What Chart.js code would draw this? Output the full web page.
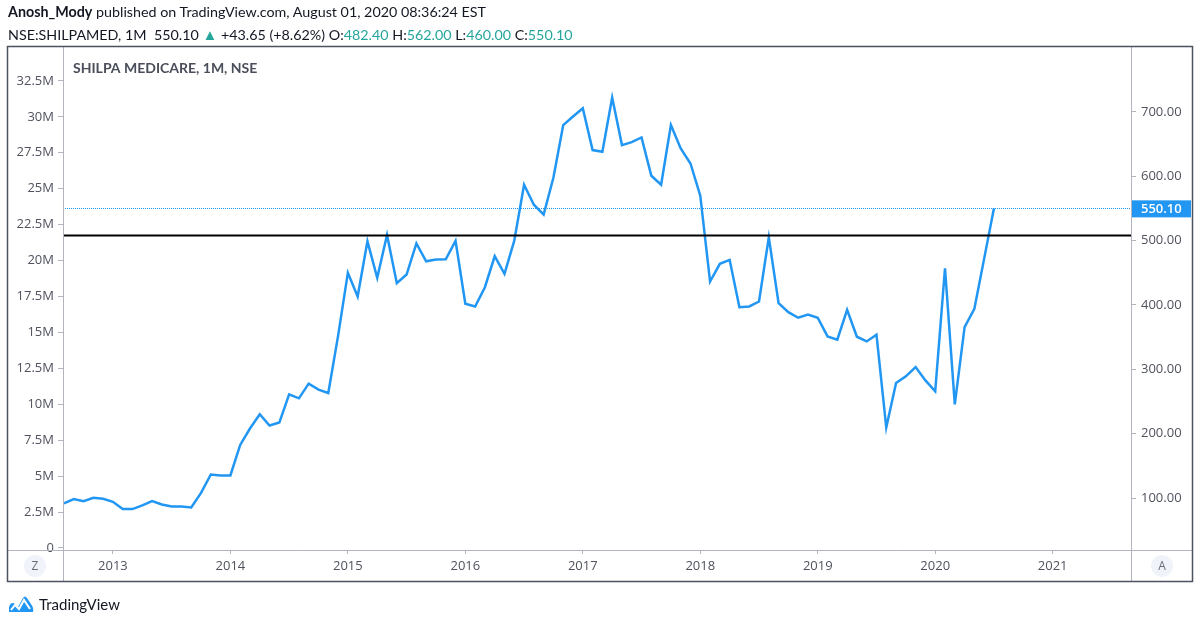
<!DOCTYPE html>
<html>
<head>
<meta charset="utf-8">
<script src="https://cdn.jsdelivr.net/npm/chart.js"></script>
<style>
    html, body { margin: 0; padding: 0; background: #ffffff; }
    body { width: 1200px; height: 624px; position: relative; overflow: hidden; font-family: Lato, 'Open Sans', sans-serif; color: #131722; }
    #cabecera { position: absolute; left: 8px; top: 1px; font-size: 14.3px; line-height: 22px; white-space: nowrap; z-index: 2; }
    #cabecera b { font-weight: 700; }
    .verde { color: #26a69a; }
    .flecha { font-size: 15px; }
    #pie { position: absolute; left: 8px; top: 594px; height: 20px; display: flex; align-items: center; font-size: 15px; color: #131722; z-index: 2; }
    #pie svg { margin-right: 5px; }
    canvas { position: absolute; left: 0; top: 0; z-index: 1; }
</style>
</head>
<body>
<div id="cabecera">
    <div><b>Anosh_Mody</b> published on TradingView.com, August 01, 2020 08:36:24 EST</div>
    <div>NSE:SHILPAMED, 1M&nbsp; 550.10 <span class="verde flecha">&#9650;</span> +43.65 (+8.62%) O:<span class="verde">482.40</span> H:<span class="verde">562.00</span> L:<span class="verde">460.00</span> C:<span class="verde">550.10</span></div>
</div>
<canvas id="grafica" width="1200" height="624"></canvas>
<div id="pie">
    <svg width="26" height="18" viewBox="0 0 26 18">
        <path d="M1 17 L1 12 Q3 6 7 9 L10 12 L15 3 Q17 0 19 3 L23 9 Q26 13 25 17 Z" fill="#2196f3"/>
        <path d="M3 15 L7 10 L11 14 L16 5 L22 14" fill="none" stroke="#ffffff" stroke-width="2"/>
    </svg>
    <span>TradingView</span>
</div>
<script>
// cierres mensuales, desde agosto 2012 hasta julio 2020
const primerMes = { anio: 2012, mes: 8 };
const cierres = [
    91.8, 98.4, 95.3, 100.5, 98.9,
    94.3, 82.9, 82.9, 88.7, 95.3, 90.2, 87.1, 87.1, 85.6, 108.2, 136.7, 135.2,
    135.2, 182.6, 208.1, 230.2, 212.7, 217.4, 261.2, 255.0, 277.8, 268.5, 263.3, 352.0,
    449.9, 413.2, 498.9, 442.2, 508.8, 433.8, 447.3, 495.8, 467.9, 470.5, 471.0, 499.5,
    401.9, 397.7, 427.6, 475.7, 448.4, 500.0, 586.8, 555.8, 540.3, 598.1, 679.4, 692.7,
    705.7, 640.6, 638.0, 722.2, 648.4, 653.0, 660.2, 600.8, 586.8, 679.4, 643.1, 619.8,
    569.8, 436.4, 463.9, 470.1, 396.6, 397.7, 405.4, 505.1, 402.8, 388.8, 380.2, 385.3,
    380.2, 351.2, 346.0, 392.6, 350.7, 343.4, 353.8, 209.6, 278.8, 289.1, 303.6, 282.9,
    265.9, 457.1, 245.7, 365.6, 394.1, 472.0, 550.1
];

const anios = [2013, 2014, 2015, 2016, 2017, 2018, 2019, 2020, 2021];
const ticksPrecio = [100, 200, 300, 400, 500, 600, 700];
const ticksVolumen = [0, 2.5e6, 5e6, 7.5e6, 10e6, 12.5e6, 15e6, 17.5e6, 20e6, 22.5e6, 25e6, 27.5e6, 30e6, 32.5e6];

const nivelSoporte = 508;
const ultimoCierre = 550.10;
const titulo = 'SHILPA MEDICARE, 1M, NSE';

// meses contados desde enero 2013
const puntos = cierres.map((c, i) => ({
    x: (primerMes.anio - 2013) * 12 + (primerMes.mes - 1) + i,
    y: c
}));

const FUENTE = "'Open Sans', sans-serif";
const GRIS_TEXTO = '#50535e';
const GRIS_LINEA = '#b2b5be';
const AZUL = '#2196f3';

const marco = {
    id: 'marco',
    afterDatasetsDraw(chart) {
        const ctx = chart.ctx;
        const a = chart.chartArea;
        const yP = chart.scales.yPrecio;

        ctx.save();
        // linea horizontal negra
        const ySop = Math.round(yP.getPixelForValue(nivelSoporte)) + 0.5;
        ctx.strokeStyle = '#000000';
        ctx.lineWidth = 2;
        ctx.beginPath();
        ctx.moveTo(a.left, ySop);
        ctx.lineTo(a.right, ySop);
        ctx.stroke();

        // linea punteada del ultimo precio
        const yUlt = Math.round(yP.getPixelForValue(ultimoCierre)) + 0.5;
        ctx.strokeStyle = AZUL;
        ctx.lineWidth = 1;
        ctx.setLineDash([1, 1]);
        ctx.beginPath();
        ctx.moveTo(a.left, yUlt);
        ctx.lineTo(a.right, yUlt);
        ctx.stroke();
        ctx.setLineDash([]);
        ctx.restore();
    },
    afterDraw(chart) {
        const ctx = chart.ctx;
        const a = chart.chartArea;
        const yP = chart.scales.yPrecio;
        const izq = 7.5, der = 1192.5, arriba = 46.5, abajo = 581.5;

        ctx.save();
        // separadores
        ctx.strokeStyle = GRIS_LINEA;
        ctx.lineWidth = 1;
        ctx.beginPath();
        ctx.moveTo(a.left + 0.5, arriba);
        ctx.lineTo(a.left + 0.5, abajo);
        ctx.moveTo(a.right + 0.5, arriba);
        ctx.lineTo(a.right + 0.5, abajo);
        ctx.moveTo(izq, a.bottom + 0.5);
        ctx.lineTo(der, a.bottom + 0.5);
        ctx.stroke();

        // marco exterior
        ctx.strokeStyle = '#4c525e';
        ctx.lineWidth = 1.5;
        ctx.strokeRect(izq, arriba, der - izq, abajo - arriba);

        // etiqueta del ultimo precio
        const yUlt = yP.getPixelForValue(ultimoCierre);
        ctx.fillStyle = AZUL;
        ctx.fillRect(a.right + 1, yUlt - 8, 59, 17);
        ctx.fillStyle = '#ffffff';
        ctx.font = '600 13px ' + FUENTE;
        ctx.textBaseline = 'middle';
        ctx.textAlign = 'left';
        ctx.fillText(ultimoCierre.toFixed(2), a.right + 10, yUlt + 1);

        // titulo del grafico
        ctx.fillStyle = '#4a4e5a';
        ctx.font = '700 14px Lato, ' + FUENTE;
        ctx.fillText(titulo, a.left + 10, 68);

        // botones Z y A
        const botones = [['Z', 35, 566], ['A', 1162, 566]];
        botones.forEach(([letra, bx, by]) => {
            ctx.fillStyle = '#f0f3fa';
            ctx.beginPath();
            ctx.arc(bx, by, 11, 0, Math.PI * 2);
            ctx.fill();
            ctx.fillStyle = '#6a6d78';
            ctx.font = '12px ' + FUENTE;
            ctx.textAlign = 'center';
            ctx.fillText(letra, bx, by + 1);
        });
        ctx.restore();
    }
};

new Chart(document.getElementById('grafica'), {
    type: 'line',
    data: {
        datasets: [{
            data: puntos,
            xAxisID: 'x',
            yAxisID: 'yPrecio',
            borderColor: AZUL,
            borderWidth: 2.5,
            pointRadius: 0,
            tension: 0,
            clip: false
        }]
    },
    options: {
        responsive: false,
        animation: false,
        events: [],
        layout: {
            padding: { left: 7, right: 7, top: 46, bottom: 43 }
        },
        plugins: {
            legend: { display: false },
            tooltip: { enabled: false }
        },
        scales: {
            x: {
                type: 'linear',
                position: 'bottom',
                min: -5.1,
                max: 104.0,
                afterFit(s) { s.height = 31; },
                afterBuildTicks(s) { s.ticks = anios.map(a => ({ value: (a - 2013) * 12 })); },
                ticks: {
                    autoSkip: false,
                    maxRotation: 0,
                    padding: 4,
                    color: GRIS_TEXTO,
                    font: { family: FUENTE, size: 13 },
                    callback: v => String(2013 + v / 12)
                },
                grid: { drawOnChartArea: false, drawTicks: true, tickLength: 4, color: GRIS_LINEA },
                border: { display: false }
            },
            yVolumen: {
                type: 'linear',
                position: 'left',
                display: true,
                min: -0.14e6,
                max: 34.93e6,
                afterFit(s) { s.width = 56; },
                afterBuildTicks(s) { s.ticks = ticksVolumen.map(v => ({ value: v })); },
                ticks: {
                    padding: 4,
                    color: GRIS_TEXTO,
                    font: { family: FUENTE, size: 13 },
                    callback: v => v === 0 ? '0' : (v / 1e6) + 'M'
                },
                grid: { drawOnChartArea: false, drawTicks: true, tickLength: 5, color: GRIS_LINEA },
                border: { display: false }
            },
            yPrecio: {
                type: 'linear',
                position: 'right',
                min: 19.4,
                max: 802.3,
                afterFit(s) { s.width = 62; },
                afterBuildTicks(s) { s.ticks = ticksPrecio.map(v => ({ value: v })); },
                ticks: {
                    padding: 5,
                    color: GRIS_TEXTO,
                    font: { family: FUENTE, size: 13 },
                    callback: v => v.toFixed(2)
                },
                grid: { drawOnChartArea: false, drawTicks: true, tickLength: 5, color: GRIS_LINEA },
                border: { display: false }
            }
        }
    },
    plugins: [marco]
});
</script>
</body>
</html>
